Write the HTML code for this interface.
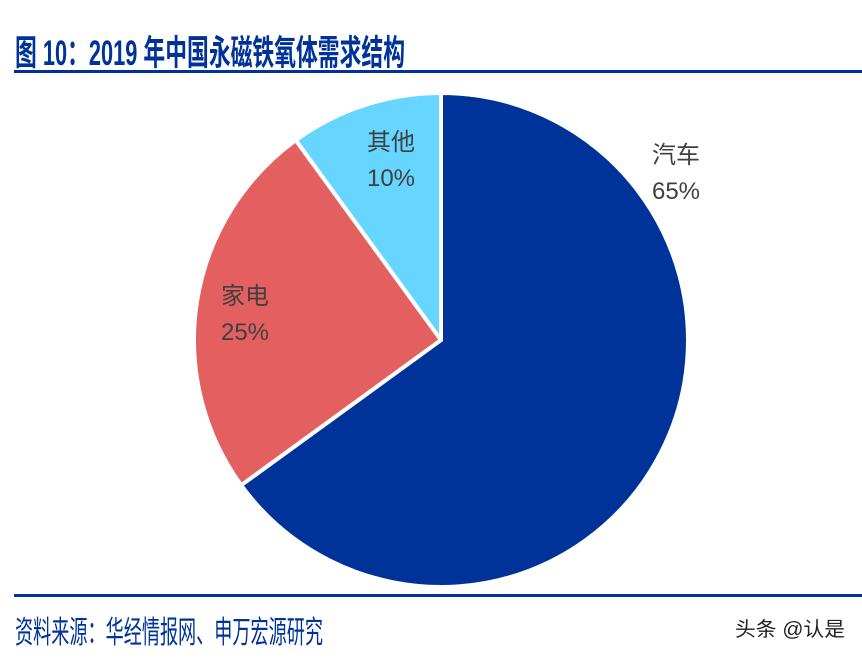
<!DOCTYPE html>
<html><head><meta charset="utf-8"><style>
body{margin:0;background:#fff;width:862px;height:656px;overflow:hidden}
text{font-family:"Liberation Sans","Noto Sans CJK SC",sans-serif}
</style></head><body>
<svg width="862" height="656">
<text x="15" y="65" font-size="35" font-weight="bold" fill="#003399" textLength="390" lengthAdjust="spacingAndGlyphs">图 10：2019 年中国永磁铁氧体需求结构</text>
<rect x="14" y="70" width="848" height="3" fill="#003399"/>
<g id="pie"></g>
<g id="labels"></g>
<rect x="14" y="594" width="848" height="3" fill="#003399"/>
<text x="15" y="643" font-size="31" fill="#003399" textLength="308" lengthAdjust="spacingAndGlyphs">资料来源：华经情报网、申万宏源研究</text>
<text x="735" y="636" font-size="20" fill="#222" textLength="110" lengthAdjust="spacingAndGlyphs">头条 @认是</text>
</svg>
<script>
const categories=["汽车","家电","其他"];
const values=[65,25,10];
const colors=["#003399","#E46060","#66D5FF"];
const labelPos=[[676,155],[245,296],[391,142]];
const cx=441,cy=340,r=247;
const pie=document.getElementById('pie'),lab=document.getElementById('labels');
const ns="http://www.w3.org/2000/svg";
const total=values.reduce((a,b)=>a+b,0);
let a0=0;
values.forEach((v,i)=>{
  const a1=a0+v/total*2*Math.PI;
  const p=(a)=>[cx+r*Math.sin(a),cy-r*Math.cos(a)];
  const [x0,y0]=p(a0),[x1,y1]=p(a1);
  const path=document.createElementNS(ns,'path');
  path.setAttribute('d',`M${cx},${cy}L${x0},${y0}A${r},${r} 0 ${a1-a0>Math.PI?1:0} 1 ${x1},${y1}Z`);
  path.setAttribute('fill',colors[i]);
  path.setAttribute('stroke','#fff');
  path.setAttribute('stroke-width','4');
  path.setAttribute('stroke-linejoin','round');
  
  
  pie.appendChild(path);
  const [lx,ly]=labelPos[i];
  const t1=document.createElementNS(ns,'text');
  t1.setAttribute('x',lx);t1.setAttribute('y',ly+8);t1.setAttribute('font-size','24');
  t1.setAttribute('text-anchor','middle');t1.setAttribute('fill','#404040');
  t1.textContent=categories[i];
  
  
  lab.appendChild(t1);
  const t2=document.createElementNS(ns,'text');
  t2.setAttribute('x',lx);t2.setAttribute('y',ly+44);t2.setAttribute('font-size','24');
  t2.setAttribute('text-anchor','middle');t2.setAttribute('fill','#404040');
  t2.textContent=v+'%';
  
  
  lab.appendChild(t2);
  a0=a1;
});
</script>
</body></html>
